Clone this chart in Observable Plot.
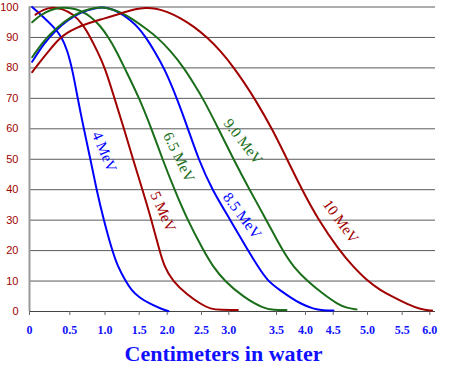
<!DOCTYPE html>
<html><head><meta charset="utf-8">
<script src="https://cdn.jsdelivr.net/npm/d3@7"></script>
<script src="https://cdn.jsdelivr.net/npm/@observablehq/plot@0.6"></script>
<style>body{margin:0;background:#fff} #chart svg{display:block}</style>
</head><body><div id="chart"></div>
<script>
const series = ["4 MeV", "5 MeV", "6.5 MeV", "8.5 MeV", "9.0 MeV", "10 MeV"];
const seriesColors = ["#0000ff", "#a00000", "#1a6e1a", "#0000ff", "#1a6e1a", "#a00000"];

const depth4 = [0.033, 0.177, 0.301, 0.406, 0.468, 0.534, 0.652, 0.794, 0.879, 0.983, 1.105, 1.183, 1.300, 1.387, 1.494, 1.702, 1.880, 2.019];
const dose4  = [100, 96.6, 93.4, 90, 85.7, 80, 65, 50, 40, 30, 20, 15, 10, 7, 4.7, 2.4, 1, 0.1];

const depth5 = [0.074, 0.174, 0.285, 0.409, 0.538, 0.680, 0.794, 0.901, 1.0, 1.139, 1.278, 1.409, 1.559, 1.720, 1.863, 1.943, 2.077, 2.292, 2.485, 2.665, 2.848, 3.095];
const dose5  = [97.5, 99.2, 100, 99.4, 97.8, 94.5, 90, 85, 80, 70, 60, 50, 40, 30, 20, 15, 10, 5.5, 2.5, 0.8, 0.5, 0.5];

const depth65 = [0.033, 0.136, 0.261, 0.385, 0.510, 0.652, 0.794, 0.936, 1.051, 1.168, 1.285, 1.505, 1.720, 1.916, 2.106, 2.296, 2.537, 2.701, 2.921, 3.154, 3.364, 3.469, 3.672];
const dose65  = [95, 97.4, 99.1, 99.8, 99.7, 98.9, 96.9, 93.8, 90, 85.5, 80, 70, 60, 50, 40, 30, 20, 15, 10, 4.7, 1, 0.5, 0.5];

const depth85 = [0.033, 0.177, 0.323, 0.468, 0.652, 0.865, 1.007, 1.139, 1.256, 1.373, 1.490, 1.621, 1.773, 1.946, 2.143, 2.303, 2.456, 2.692, 3.018, 3.201, 3.301, 3.406, 3.569, 3.741, 3.914, 4.144, 4.325, 4.504];
const dose85  = [82, 88, 92.3, 95.6, 98.3, 99.7, 100, 99, 97.6, 95.6, 93.2, 90, 85.5, 80, 70, 60, 50, 40, 30, 20, 15, 10, 6.9, 4.6, 2.6, 0.8, 0.4, 0.3];

const depth90 = [0.033, 0.177, 0.344, 0.510, 0.699, 0.865, 1.007, 1.227, 1.421, 1.643, 1.827, 2.048, 2.245, 2.383, 2.527, 2.811, 3.049, 3.217, 3.395, 3.603, 3.798, 4.031, 4.330, 4.558, 4.704, 4.840];
const dose90  = [83.5, 89, 93.4, 96.7, 98.9, 99.8, 100, 98.4, 95.8, 92.6, 90, 85.6, 80, 75, 70, 60, 50, 40, 30, 20, 14.5, 10, 5.6, 2.5, 1.1, 0.7];

const depth10 = [0.033, 0.136, 0.236, 0.364, 0.459, 0.595, 0.766, 0.936, 1.110, 1.285, 1.446, 1.613, 1.791, 2.0, 2.194, 2.388, 2.604, 2.848, 3.055, 3.165, 3.269, 3.455, 3.681, 3.940, 4.235, 4.592, 4.781, 5.0, 5.187, 5.331, 5.591, 5.832, 6.04];
const dose10  = [78.6, 82.2, 85.5, 89.5, 91.5, 93.2, 94.7, 95.9, 97, 98.3, 99.4, 99.8, 99.6, 98.5, 96.4, 93.6, 90, 85.6, 80, 75, 70, 60, 50, 40, 30, 20, 15, 10, 7, 5.2, 2.4, 0.7, 0.3];

const xTicks = [0, 0.5, 1, 1.5, 2, 2.5, 3, 3.5, 4, 4.5, 5, 5.5, 6];
const xTickLabels = ["0", "0.5", "1.0", "1.5", "2.0", "2.5", "3.0", "3.5", "4.0", "4.5", "5.0", "5.5", "6.0"];
const yTicks = [0, 10, 20, 30, 40, 50, 60, 70, 80, 90, 100];
const xTitle = "Centimeters in water";

// curve label annotations (data coordinates)
const labelDepth = [0.99, 1.925, 2.17, 3.14, 3.15, 4.61];
const labelDose  = [52.5, 32.8, 50.7, 31.5, 55.8, 29.6];
const labelAngle = [67, 66, 64, 53, 52, 54];

const depths = [depth4, depth5, depth65, depth85, depth90, depth10];
const doses = [dose4, dose5, dose65, dose85, dose90, dose10];
const rows = [];
series.forEach((s, i) => depths[i].forEach((x, j) => rows.push({series: s, x, y: doses[i][j]})));
const labels = series.map((s, i) => ({series: s, x: labelDepth[i], y: labelDose[i], a: labelAngle[i]}));

const chart = Plot.plot({
  width: 450,
  height: 376,
  marginLeft: 29,
  marginRight: 15,
  marginTop: 6.5,
  marginBottom: 65,
  style: {background: "white"},
  x: {type: "linear", domain: xTicks, range: [29, 69.3, 104.5, 138.7, 166.7, 201, 228.3, 276, 305, 332.7, 367, 401.7, 429.3]},
  y: {type: "linear", domain: [0, 100]},
  color: {domain: series, range: seriesColors},
  marks: [
    Plot.ruleY(yTicks.filter(d => d > 0), {stroke: "#5a5a5a", strokeWidth: 1}),
    Plot.ruleY([0], {stroke: "#444"}),
    Plot.ruleX([0], {stroke: "#999", strokeWidth: 2}),
    Plot.axisY({ticks: yTicks, tickSize: 0, tickPadding: 11, label: null, fill: "#a00000", fontSize: 11, fontFamily: "Liberation Sans"}),
    Plot.axisX({ticks: xTicks, tickFormat: d => xTickLabels[xTicks.indexOf(d)], tickSize: 4, tickPadding: 10, label: null,
      stroke: "#666", fill: "#1010ff", fontWeight: "bold", fontSize: 12, fontFamily: "Liberation Serif"}),
    Plot.line(rows, {x: "x", y: "y", z: "series", stroke: "series", strokeWidth: 2, curve: "basis"}),
    Plot.text(labels, {x: "x", y: "y", text: "series", rotate: "a", fill: "series", fontSize: 15, fontFamily: "Liberation Serif"}),
    Plot.text([xTitle], {frameAnchor: "bottom", dy: 49, dx: -9, fontSize: 22, fontWeight: "bold", fontFamily: "Liberation Serif", fill: "#1010ff"})
  ]
});
document.getElementById("chart").append(chart);
</script>
</body></html>
